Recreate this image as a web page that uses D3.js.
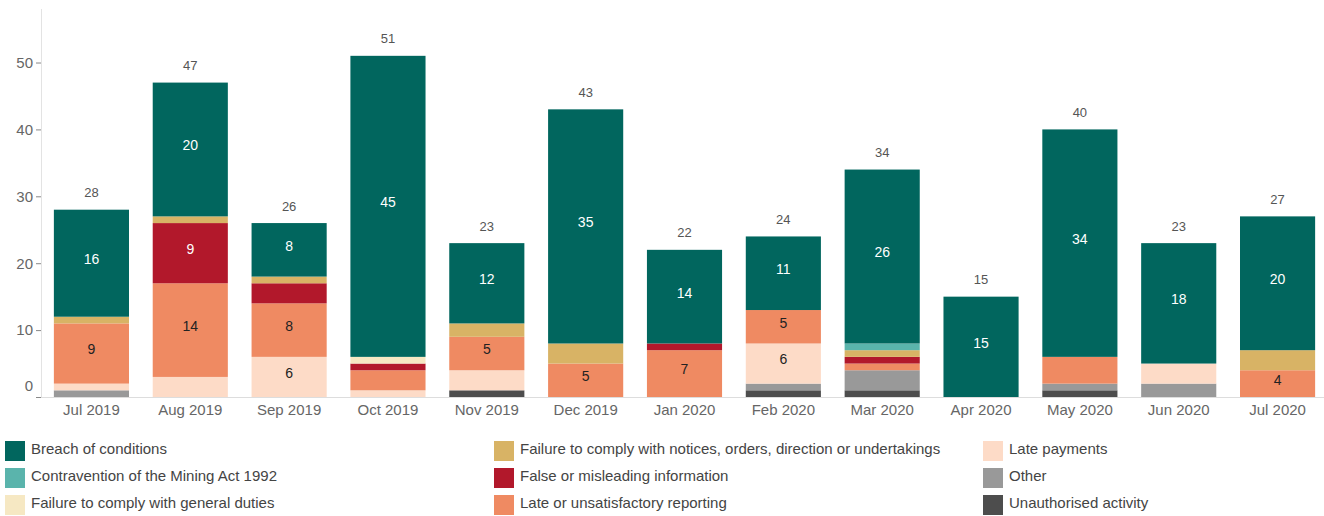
<!DOCTYPE html>
<html><head><meta charset="utf-8">
<script src="https://cdn.jsdelivr.net/npm/d3@7"></script>
<style>body{margin:0;background:#fff;font-family:Arial,"Liberation Sans",sans-serif;}</style>
</head><body><svg id="c" width="1324" height="516"></svg>
<script>
const months = ["Jul 2019","Aug 2019","Sep 2019","Oct 2019","Nov 2019","Dec 2019","Jan 2020","Feb 2020","Mar 2020","Apr 2020","May 2020","Jun 2020","Jul 2020"];
// series in legend order
const seriesNames = ["Breach of conditions","Contravention of the Mining Act 1992","Failure to comply with general duties","Failure to comply with notices, orders, direction or undertakings","False or misleading information","Late or unsatisfactory reporting","Late payments","Other","Unauthorised activity"];
const seriesColors = ["#01665e","#5ab4ac","#f6e8c3","#d8b365","#b2182b","#ef8a62","#fddbc7","#999999","#4d4d4d"];
const labelColors = ["#ffffff","#222222","#222222","#222222","#ffffff","#222222","#222222","#222222","#ffffff"];
const breach        = [16,20,8,45,12,35,14,11,26,15,34,18,20];
const contravention = [0,0,0,0,0,0,0,0,1,0,0,0,0];
const generalDuties = [0,0,0,1,0,0,0,0,0,0,0,0,0];
const notices       = [1,1,1,0,2,3,0,0,1,0,0,0,3];
const falseInfo     = [0,9,3,1,0,0,1,0,1,0,0,0,0];
const lateReporting = [9,14,8,3,5,5,7,5,1,0,4,0,4];
const latePayments  = [1,3,6,1,3,0,0,6,0,0,0,3,0];
const other         = [1,0,0,0,0,0,0,1,3,0,1,2,0];
const unauthorised  = [0,0,0,0,1,0,0,1,1,0,1,0,0];
const yTicks = [0,10,20,30,40,50];
const hiddenLabels = [["May 2020","Late or unsatisfactory reporting"]];
const labelMin = 4;

const seriesValues = [breach,contravention,generalDuties,notices,falseInfo,lateReporting,latePayments,other,unauthorised];
const rows = months.map((m,i)=>{const r={month:m}; seriesNames.forEach((s,j)=>r[s]=seriesValues[j][i]); return r;});
const stackOrder = seriesNames.slice().reverse();
const stacked = d3.stack().keys(stackOrder)(rows);
const color = d3.scaleOrdinal().domain(seriesNames).range(seriesColors);
const lblColor = d3.scaleOrdinal().domain(seriesNames).range(labelColors);

const svg = d3.select("#c");
const x = d3.scaleBand().domain(months).range([43,1326]).paddingInner(0.24).paddingOuter(0.11);
const y = d3.scaleLinear().domain([0,58]).range([397,9]);

// axes lines
svg.append("line").attr("x1",41.5).attr("x2",41.5).attr("y1",y(58)).attr("y2",y(0)).attr("stroke","#e3e3e3");
svg.append("line").attr("x1",41).attr("x2",1324).attr("y1",y(0)+0.5).attr("y2",y(0)+0.5).attr("stroke","#dddddd");

const yAxis = svg.append("g").attr("transform","translate(41,0)")
  .call(d3.axisLeft(y).tickValues(yTicks).tickSize(5).tickPadding(3));
yAxis.select(".domain").remove();
yAxis.selectAll(".tick line").attr("stroke","#888");
yAxis.selectAll(".tick text").attr("fill","#666").style("font-size","15px").style("font-family","Arial,'Liberation Sans',sans-serif")
  .attr("dy", d=> d===0 ? "-0.45em" : "0.32em");

const xAxis = svg.append("g").attr("transform",`translate(0,${y(0)})`)
  .call(d3.axisBottom(x).tickSize(0).tickPadding(7));
xAxis.select(".domain").remove();
xAxis.selectAll(".tick text").attr("fill","#666").style("font-size","15px").style("font-family","Arial,'Liberation Sans',sans-serif");

const g = svg.append("g");
stacked.forEach(layer=>{
  const key = layer.key;
  g.selectAll(null).data(layer.filter(d=>d[1]-d[0]>0)).join("rect")
    .attr("x",d=>x(d.data.month)).attr("width",x.bandwidth())
    .attr("y",d=>y(d[1])).attr("height",d=>y(d[0])-y(d[1]))
    .attr("fill",color(key));
  g.selectAll(null).data(layer.filter(d=>d[1]-d[0]>=labelMin && !hiddenLabels.some(h=>h[0]===d.data.month && h[1]===key)))
    .join("text")
    .attr("x",d=>x(d.data.month)+x.bandwidth()/2)
    .attr("y",d=>y((d[0]+d[1])/2)-4)
    .attr("dy","0.35em").attr("text-anchor","middle")
    .attr("fill",lblColor(key)).style("font-size","14px")
    .text(d=>d[1]-d[0]);
});
// totals
const totals = rows.map(r=>({month:r.month,total:d3.sum(seriesNames,s=>r[s])}));
g.selectAll(null).data(totals).join("text")
  .attr("x",d=>x(d.month)+x.bandwidth()/2).attr("y",d=>y(d.total)-17)
  .attr("dy","0.35em").attr("text-anchor","middle").attr("fill","#555").style("font-size","13px")
  .text(d=>d.total);

// legend
const lg = svg.append("g");
seriesNames.forEach((s,i)=>{
  const col = Math.floor(i/3), row = i%3;
  const gx = 5 + col*489, gy = 441 + row*27;
  lg.append("rect").attr("x",gx).attr("y",gy).attr("width",20).attr("height",20).attr("fill",color(s));
  lg.append("text").attr("x",gx+26).attr("y",gy+8).attr("dy","0.35em").attr("fill","#444").style("font-size","15px").text(s);
});
</script></body></html>
